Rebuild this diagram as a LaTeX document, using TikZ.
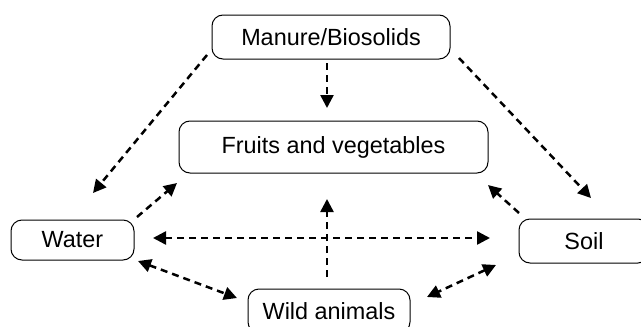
\documentclass[tikz,border=0pt]{standalone}
\usepackage{fontspec}
\setmainfont{Liberation Sans}
\usetikzlibrary{arrows.meta}
\begin{document}
\begin{tikzpicture}[x=1pt,y=-1pt,
  box/.style={draw=black,line width=1pt,rounded corners=11pt,inner sep=0pt,
    font=\fontsize{23.4}{27}\selectfont},
  link/.style={line width=2.5pt,dash pattern=on 7pt off 5pt,
    -{Triangle[length=13pt,width=13pt]}},
  link2/.style={link,{Triangle[length=13pt,width=13pt]}-{Triangle[length=13pt,width=13pt]}}]
\useasboundingbox (0,0) rectangle (641,327);
\clip (0,0) rectangle (641,327);
\node[box,minimum width=238pt,minimum height=44pt] (manure) at (331,37) {Manure/Biosolids};
\node[box,minimum width=309pt,minimum height=52pt] (fruits) at (333.5,147) {Fruits and vegetables};
\node[box,minimum width=123pt,minimum height=40pt] (water) at (72.5,240) {Water};
\node[box,minimum width=130pt,minimum height=44pt] (soil) at (584,241) {Soil};
\node[box,minimum width=162pt,minimum height=44pt] (wild) at (329,311) {Wild animals};
% endpoints
\coordinate (mw1) at (207,55);   \coordinate (mw2) at (93,193);
\coordinate (mf1) at (327,63);   \coordinate (mf2) at (327,108);
\coordinate (ms1) at (459,58);   \coordinate (ms2) at (591,198);
\coordinate (wf1) at (137,217);  \coordinate (wf2) at (177,183);
\coordinate (sf1) at (519,213);  \coordinate (sf2) at (488,185);
\coordinate (ws1) at (153,238);  \coordinate (ws2) at (490,238);
\coordinate (af1) at (327,277);  \coordinate (af2) at (327,199);
\coordinate (wa1) at (138,261);  \coordinate (wa2) at (237,298);
\coordinate (sa1) at (496,265);  \coordinate (sa2) at (427,297);
\draw[link] (mw1) -- (mw2);
\draw[link] (mf1) -- (mf2);
\draw[link] (ms1) -- (ms2);
\draw[link] (wf1) -- (wf2);
\draw[link] (sf1) -- (sf2);
\draw[link2] (ws1) -- (ws2);
\draw[link] (af1) -- (af2);
\draw[link2] (wa1) -- (wa2);
\draw[link2] (sa1) -- (sa2);
\end{tikzpicture}
\end{document}
